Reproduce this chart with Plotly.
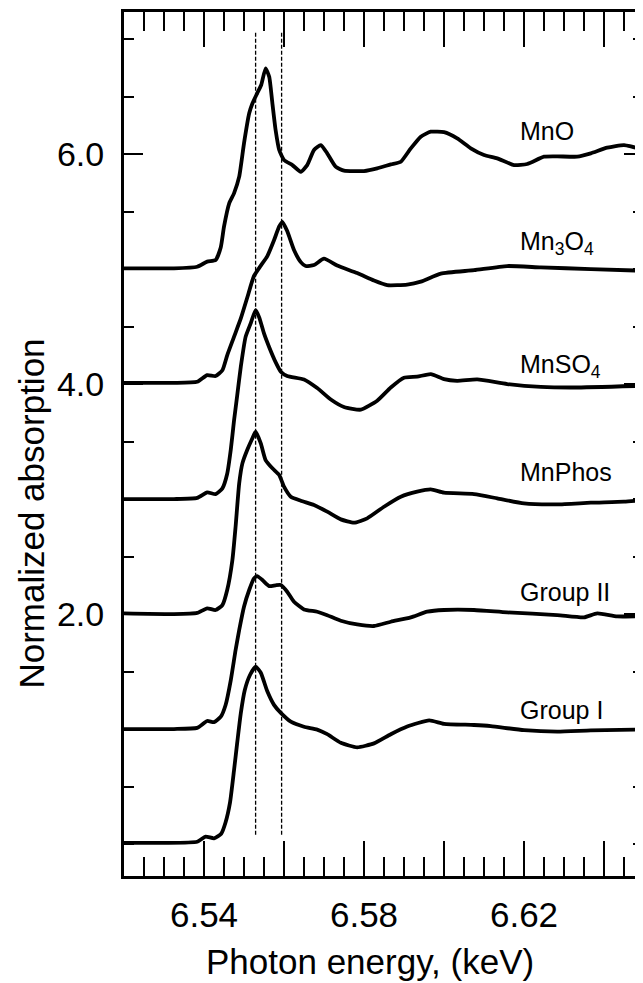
import plotly.graph_objects as go

# Photon energy (keV) and normalized absorption (offset by 1 per spectrum)
gI_x = [6.5200, 6.5300, 6.5383, 6.5404, 6.5425, 6.5443, 6.5454, 6.5465, 6.5475, 6.5483, 6.5492, 6.5502,
        6.5515, 6.5529, 6.5542, 6.5558, 6.5575, 6.5592, 6.5617, 6.5650, 6.5683, 6.5708, 6.5742, 6.5783,
        6.5825, 6.5867, 6.5908, 6.5963, 6.6000, 6.6075, 6.6117, 6.6200, 6.6283, 6.6367, 6.6498]
gI_y = [0.01, 0.01, 0.02, 0.065, 0.05, 0.09, 0.19, 0.36, 0.64, 0.88, 1.137, 1.34,
        1.47, 1.542, 1.49, 1.33, 1.21, 1.14, 1.064, 1.02, 0.995, 0.955, 0.88, 0.841,
        0.875, 0.955, 1.022, 1.075, 1.045, 1.035, 1.025, 0.99, 0.977, 0.988, 0.997]

gII_x = [6.5200, 6.5325, 6.5383, 6.5408, 6.5425, 6.5442, 6.5454, 6.5467, 6.5479, 6.5488, 6.5500, 6.5513,
         6.5525, 6.5533, 6.5546, 6.5563, 6.5579, 6.5592, 6.5608, 6.5625, 6.5650, 6.5683, 6.5708, 6.5742,
         6.5783, 6.5825, 6.5867, 6.5917, 6.5958, 6.6000, 6.6075, 6.6158, 6.6283, 6.6350, 6.6383, 6.6433, 6.6498]
gII_y = [1.0, 1.0, 1.01, 1.07, 1.06, 1.107, 1.209, 1.426, 1.687, 1.861, 2.064, 2.209,
         2.31, 2.33, 2.296, 2.243, 2.25, 2.252, 2.194, 2.107, 2.04, 2.02, 1.99, 1.942,
         1.91, 1.896, 1.933, 1.971, 2.02, 2.035, 2.035, 2.014, 1.991, 1.971, 2.006, 1.98, 1.98]

mnphos_x = [6.5200, 6.5325, 6.5383, 6.5408, 6.5429, 6.5446, 6.5458, 6.5471, 6.5479, 6.5488, 6.5496, 6.5508,
            6.5521, 6.5529, 6.5542, 6.5554, 6.5571, 6.5588, 6.5600, 6.5617, 6.5642, 6.5675, 6.5708, 6.5742,
            6.5775, 6.5808, 6.5850, 6.5892, 6.5933, 6.5967, 6.6000, 6.6075, 6.6133, 6.6200, 6.6283, 6.6367,
            6.6450, 6.6498]
mnphos_y = [2.006, 2.0, 2.01, 2.05, 2.035, 2.078, 2.209, 2.47, 2.76, 3.137, 3.31, 3.426,
            3.528, 3.585, 3.484, 3.339, 3.267, 3.209, 3.107, 3.02, 2.985, 2.948, 2.89, 2.823,
            2.794, 2.832, 2.933, 3.02, 3.064, 3.084, 3.055, 3.043, 3.006, 2.962, 2.954, 2.968,
            2.977, 2.99]

mnso4_x = [6.5200, 6.5325, 6.5383, 6.5408, 6.5429, 6.5446, 6.5458, 6.5467, 6.5475, 6.5483, 6.5492, 6.5504,
           6.5517, 6.5529, 6.5538, 6.5550, 6.5563, 6.5579, 6.5592, 6.5608, 6.5650, 6.5683, 6.5717, 6.5750,
           6.5792, 6.5833, 6.5867, 6.5900, 6.5933, 6.5967, 6.6000, 6.6033, 6.6083, 6.6158, 6.6242, 6.6325,
           6.6498]
mnso4_y = [3.0, 3.0, 3.01, 3.058, 3.043, 3.093, 3.22, 3.43, 3.68, 3.9, 4.15, 4.41,
           4.53, 4.643, 4.58, 4.44, 4.32, 4.19, 4.107, 4.07, 4.04, 3.965, 3.865, 3.80,
           3.777, 3.855, 3.97, 4.055, 4.064, 4.086, 4.042, 4.028, 4.04, 4.0, 3.975, 3.97,
           3.985]

mn3o4_x = [6.5200, 6.5325, 6.5383, 6.5408, 6.5429, 6.5446, 6.5458, 6.5475, 6.5492, 6.5508, 6.5525, 6.5542,
           6.5558, 6.5575, 6.5588, 6.5596, 6.5608, 6.5625, 6.5642, 6.5654, 6.5675, 6.5700, 6.5733, 6.5783,
           6.5825, 6.5858, 6.5908, 6.5942, 6.5992, 6.6075, 6.6158, 6.6242, 6.6367, 6.6498]
mn3o4_y = [4.01, 4.01, 4.02, 4.078, 4.07, 4.12, 4.25, 4.41, 4.57, 4.75, 4.94, 5.03,
           5.11, 5.25, 5.37, 5.41, 5.33, 5.165, 5.06, 5.026, 5.035, 5.09, 5.03, 4.965,
           4.9, 4.86, 4.865, 4.89, 4.96, 4.99, 5.026, 5.014, 5.0, 4.985]

mno_x = [6.5200, 6.5325, 6.5383, 6.5408, 6.5429, 6.5442, 6.5450, 6.5463, 6.5475, 6.5488, 6.5500, 6.5513,
         6.5521, 6.5533, 6.5543, 6.5554, 6.5563, 6.5571, 6.5579, 6.5588, 6.5600, 6.5621, 6.5642, 6.5658,
         6.5675, 6.5692, 6.5708, 6.5729, 6.5750, 6.5800, 6.5833, 6.5867, 6.5892, 6.5917, 6.5942, 6.5967,
         6.6000, 6.6033, 6.6067, 6.6100, 6.6133, 6.6175, 6.6208, 6.6250, 6.6283, 6.6333, 6.6367, 6.6408,
         6.6450, 6.6483, 6.6498]
mno_y = [5.006, 5.006, 5.02, 5.064, 5.078, 5.19, 5.368, 5.571, 5.658, 5.803, 6.093, 6.354,
         6.44, 6.528, 6.6, 6.745, 6.672, 6.44, 6.209, 6.035, 5.948, 5.904, 5.846, 5.904,
         6.035, 6.078, 6.006, 5.89, 5.855, 5.852, 5.875, 5.91, 5.933, 6.049, 6.151, 6.194,
         6.19, 6.136, 6.049, 5.991, 5.962, 5.904, 5.913, 5.977, 5.98, 5.977, 6.006, 6.055,
         6.078, 6.05, 6.02]

labels = ["MnO", "Mn<sub>3</sub>O<sub>4</sub>", "MnSO<sub>4</sub>", "MnPhos", "Group II", "Group I"]
label_x = [6.6185, 6.6185, 6.6185, 6.6185, 6.6185, 6.6185]
label_y = [6.204, 5.223, 4.16, 3.235, 2.194, 1.165]

ref_lines_x = [6.5529, 6.5594]
ref_line_y = [0.08, 7.06]

x_major_ticks = [6.52, 6.54, 6.56, 6.58, 6.60, 6.62, 6.64]
x_label_vals = [6.54, 6.58, 6.62]
x_label_text = ["6.54", "6.58", "6.62"]
y_tickvals = [2, 4, 6]
y_ticktext = ["2.0", "4.0", "6.0"]

X_RANGE = [6.52, 6.64975]
Y_RANGE = [-0.278, 7.235]

FONT = "Arial, Liberation Sans, Helvetica, sans-serif"

fig = go.Figure()
for rx in ref_lines_x:
    fig.add_trace(go.Scatter(x=[rx, rx], y=ref_line_y, mode="lines", xaxis="x2",
                             line=dict(color="black", width=1.3, dash="4px,2px"),
                             showlegend=False, hoverinfo="skip"))

for xs, ys in [(gI_x, gI_y), (gII_x, gII_y), (mnphos_x, mnphos_y),
               (mnso4_x, mnso4_y), (mn3o4_x, mn3o4_y), (mno_x, mno_y)]:
    fig.add_trace(go.Scatter(x=xs, y=ys, mode="lines",
                             line=dict(color="black", width=3.8, shape="spline", smoothing=0.5),
                             showlegend=False))

for t, lx, ly in zip(labels, label_x, label_y):
    fig.add_annotation(x=lx, y=ly, text=t, showarrow=False, xanchor="left", yanchor="middle",
                       font=dict(family=FONT, size=25, color="black"))

# axis titles
fig.add_annotation(xref="paper", yref="paper", x=0.474, y=-0.0995, text="Photon energy, (keV)",
                   showarrow=False, xanchor="center", yanchor="middle",
                   font=dict(family=FONT, size=35, color="black"))
fig.add_annotation(xref="paper", yref="paper", x=-0.178, y=0.419, text="Normalized absorption",
                   textangle=-90, showarrow=False, xanchor="center", yanchor="middle", borderpad=0,
                   font=dict(family=FONT, size=35, color="black"))

# the page body adds an 8px margin; the figure is sized so the plot lands where the reference has it
fig.update_layout(
    width=635, height=975,
    margin=dict(l=116, r=0, t=4, b=107),
    plot_bgcolor="white", paper_bgcolor="white",
    font=dict(family=FONT, color="black"),
    showlegend=False,
    xaxis=dict(
        range=X_RANGE, showgrid=False, zeroline=False, automargin=False,
        showline=True, linecolor="black", linewidth=3, mirror="ticks",
        ticks="inside", ticklen=35, tickwidth=2, tickcolor="black",
        tickvals=x_major_ticks, showticklabels=False,
        minor=dict(dtick=0.005, tick0=6.52, ticks="inside", ticklen=19, tickwidth=2, tickcolor="black"),
    ),
    xaxis2=dict(
        range=X_RANGE, overlaying="x", anchor="y", side="bottom",
        showgrid=False, zeroline=False, automargin=False, showline=False,
        ticks="", tickvals=x_label_vals, ticktext=x_label_text,
        tickfont=dict(family=FONT, size=35, color="black"),
        ticklabelstandoff=15,
    ),
    yaxis=dict(
        range=Y_RANGE, showgrid=False, zeroline=False, automargin=False,
        showline=True, linecolor="black", linewidth=3, mirror="ticks",
        ticks="inside", ticklen=19, tickwidth=2, tickcolor="black",
        tickvals=y_tickvals, ticktext=y_ticktext,
        tickfont=dict(family=FONT, size=34, color="black"),
        ticklabelstandoff=10,
        minor=dict(dtick=0.5, tick0=0, ticks="inside", ticklen=10, tickwidth=2, tickcolor="black"),
    ),
)

fig.write_html("out.html")
